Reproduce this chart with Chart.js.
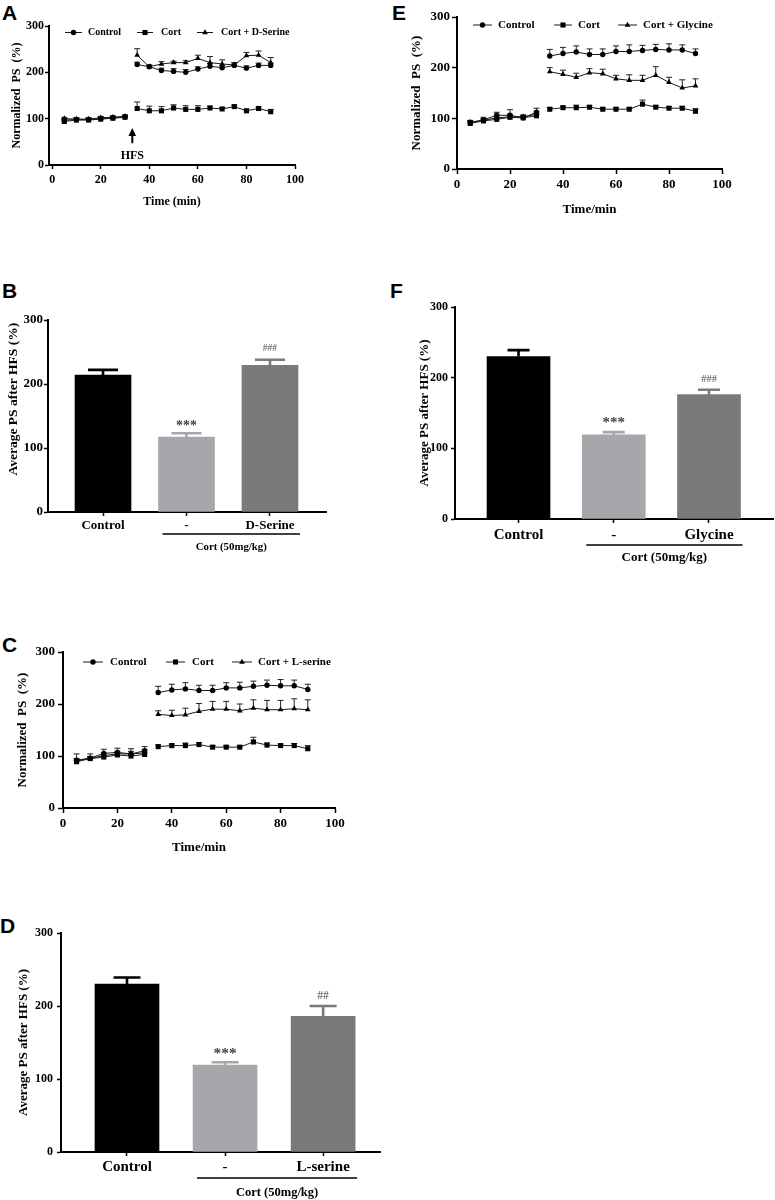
<!DOCTYPE html>
<html><head><meta charset="utf-8">
<script src="https://cdn.jsdelivr.net/npm/chart.js@4.4.1/dist/chart.umd.min.js"></script>
<style>
html,body{margin:0;padding:0;background:#fff;}
body{width:775px;height:1200px;position:relative;overflow:hidden;}
canvas{position:absolute;}
.lt{position:absolute;font-family:'Liberation Sans',Arial,sans-serif;font-weight:bold;font-size:21px;line-height:21px;color:#000;}
</style></head><body>
<div class="lt" style="left:2px;top:2px">A</div>
<div class="lt" style="left:2px;top:280px">B</div>
<div class="lt" style="left:2px;top:634px">C</div>
<div class="lt" style="left:0px;top:915px">D</div>
<div class="lt" style="left:392px;top:2px">E</div>
<div class="lt" style="left:390px;top:280px">F</div>
<canvas id="cA"></canvas><canvas id="cB"></canvas><canvas id="cC"></canvas>
<canvas id="cD"></canvas><canvas id="cE"></canvas><canvas id="cF"></canvas>
<script>
// ---------------- DATA ----------------
const lineTimes = [5,10,15,20,25,30,35,40,45,50,55,60,65,70,75,80,85,90];
const xTickValues = [0,20,40,60,80,100];
const yTickValues = [0,100,200,300];
const hfsTime = 33;

// Panel A
const aLabels = ['Control','Cort','Cort + D-Serine'];
const aControl    = [97,98,98,100,102,104, 217,212,204,202,200,207,213,210,215,209,215,215];
const aControlErr = [3,3,3,3,3,3, 5,4,5,6,6,5,6,5,5,5,5,5];
const aCort       = [94,97,97,99,101,103, 122,117,117,123,120,120,123,121,126,117,122,115];
const aCortErr    = [3,3,3,3,3,3, 14,10,9,7,8,8,4,3,3,3,3,5];
const aDSer       = [100,99,99,102,103,105, 237,212,218,221,221,230,221,218,216,236,237,221];
const aDSerErr    = [3,3,3,3,3,3, 14,3,5,3,4,7,13,9,5,7,9,11];

// Panel E
const eLabels = ['Control','Cort','Cort + Glycine'];
const eControl    = [92,97,106,106,101,112, 223,228,231,226,226,232,232,234,236,235,235,228];
const eControlErr = [4,5,6,11,4,8, 13,12,12,11,11,11,13,10,10,12,10,9];
const eCort       = [90,95,98,102,101,105, 118,121,121,122,118,118,118,128,122,120,120,114];
const eCortErr    = [3,3,3,3,3,3, 3,3,5,3,3,3,3,8,3,3,3,5];
const eGly        = [92,96,101,103,103,108, 192,187,181,190,188,178,175,175,185,171,160,164];
const eGlyErr     = [3,3,4,5,4,5, 8,8,8,8,9,7,11,10,17,10,16,14];

// Panel C
const cLabels = ['Control','Cort','Cort + L-serine'];
const cControl    = [92,96,105,107,104,110, 222,227,229,226,226,231,231,234,236,235,235,228];
const cControlErr = [12,8,8,8,10,8, 12,11,12,10,10,10,11,10,10,12,11,10];
const cCort       = [89,95,98,102,100,103, 118,120,120,122,117,117,117,127,121,120,120,114];
const cCortErr    = [3,3,3,3,3,3, 3,3,5,4,3,3,3,9,4,3,4,6];
const cLSer       = [91,95,101,104,104,106, 180,178,179,186,190,190,187,192,189,189,191,189];
const cLSerErr    = [4,4,5,5,5,6, 7,10,13,15,15,15,13,16,18,18,19,19];

// Bar panels
const bCats = ['Control','-','D-Serine'];
const bVals = [214,117,229];
const bErr  = [8,6,9];
const bMarks = ['','***','###'];

const fCats = ['Control','-','Glycine'];
const fVals = [230,119,176];
const fErr  = [9,4,7];
const fMarks = ['','***','###'];

const dCats = ['Control','-','L-serine'];
const dVals = [230,119,186];
const dErr  = [9,4,14];
const dMarks = ['','***','##'];

const groupLabel = 'Cort (50mg/kg)';
const barColors = ['#000000','#a6a6ab','#7a7a7a'];

// ---------------- HELPERS ----------------
const SERIF = "'Liberation Serif','Times New Roman',serif";
function place(id, box){
  const c = document.getElementById(id);
  c.style.left = box.l + 'px'; c.style.top = box.t + 'px';
  c.width = box.w; c.height = box.h;
  return c;
}
function pads(box, area, yW, xH){
  return {left: area.l - box.l - yW, top: area.t - box.t, right: box.l + box.w - area.r, bottom: box.t + box.h - area.b - xH};
}
function yLin(cfg){
  return {type:'linear', min:0, max:300,
    afterBuildTicks: s => { s.ticks = yTickValues.map(v => ({value:v})); },
    afterFit: s => { s.width = cfg.yW; },
    ticks:{padding:cfg.ytp, color:'#000', font:{family:SERIF, weight:'bold', size:cfg.yts}},
    grid:{display:true, drawOnChartArea:false, drawTicks:true, tickLength:cfg.ytl, tickColor:'#000', tickWidth:1.5},
    border:{display:true, color:'#000', width:2},
    title:{display:true, text:cfg.yTitle, color:'#000', font:{family:SERIF, weight:'bold', size:cfg.yTitleSize}, padding:{top:cfg.yTitlePad, bottom:0}}
  };
}
function xLin(cfg){
  return {type:'linear', min:cfg.xmin, max:100,
    afterBuildTicks: s => { s.ticks = xTickValues.map(v => ({value:v})); },
    afterFit: s => { s.height = cfg.xH; },
    ticks:{padding:cfg.xtp, color:'#000', autoSkip:false, maxRotation:0, minRotation:0, font:{family:SERIF, weight:'bold', size:cfg.xts}},
    grid:{display:true, drawOnChartArea:false, drawTicks:true, tickLength:cfg.xtl, tickColor:'#000', tickWidth:1.5},
    border:{display:true, color:'#000', width:2},
    title:{display:true, text:cfg.xTitle, color:'#000', font:{family:SERIF, weight:'bold', size:cfg.xTitleSize}, padding:{top:0, bottom:cfg.xTitlePad}}
  };
}
function drawErr(chart, kind){
  const ctx = chart.ctx, ys = chart.scales.y;
  chart.data.datasets.forEach((ds, di) => {
    if (!ds.errors) return;
    const meta = chart.getDatasetMeta(di);
    if (meta.type !== kind) return;
    meta.data.forEach((el, i) => {
      const e = ds.errors[i]; if (e == null) return;
      const v = ds.data[i].y;
      const y0 = el.y, y1 = ys.getPixelForValue(v + e);
      const col = Array.isArray(ds.errColor) ? ds.errColor[i] : ds.errColor;
      ctx.save();
      ctx.strokeStyle = col; ctx.lineWidth = ds.errWidth;
      ctx.beginPath();
      ctx.moveTo(el.x, y0); ctx.lineTo(el.x, y1);
      ctx.moveTo(el.x - ds.capHalf, y1); ctx.lineTo(el.x + ds.capHalf, y1);
      ctx.stroke();
      ctx.restore();
    });
  });
}
const errPlugin = {
  id:'errbars',
  beforeDatasetsDraw(chart){ drawErr(chart, 'line'); },
  afterDatasetsDraw(chart){ drawErr(chart, 'bar'); }
};
function legendPlugin(box, L){
  return {id:'lgd', afterDraw(chart){
    const ctx = chart.ctx; ctx.save();
    chart.data.datasets.forEach((ds, i) => {
      const it = L.items[i]; const y = L.y - box.t;
      const x0 = it[0] - box.l, x1 = it[1] - box.l, tx = it[2] - box.l;
      ctx.strokeStyle = '#1a1a1a'; ctx.lineWidth = 1;
      ctx.beginPath(); ctx.moveTo(x0, y); ctx.lineTo(x1, y); ctx.stroke();
      ctx.fillStyle = '#000';
      Chart.helpers.drawPoint(ctx, {pointStyle: ds.pointStyle, radius: ds.pointRadius, rotation: 0, borderWidth: 0}, (x0 + x1) / 2, y);
      ctx.font = `bold ${L.size}px ${SERIF}`; ctx.textBaseline = 'middle'; ctx.textAlign = 'left';
      ctx.fillText(ds.label, tx, y);
    });
    ctx.restore();
  }};
}
const markerSpec = [
  {style:'circle', r:2.7},
  {style:'rect', r:3.6},
  {style:'triangle', r:3.3}
];
// the line is interrupted across the HFS stimulation time
function gapColor(ctx){
  const t0 = lineTimes[ctx.p0DataIndex], t1 = lineTimes[ctx.p1DataIndex];
  return (t0 < hfsTime && t1 > hfsTime) ? 'rgba(0,0,0,0)' : '#1a1a1a';
}
function lineChart(id, cfg){
  const c = place(id, cfg.box);
  const pad = pads(cfg.box, cfg.area, cfg.yW, cfg.xH);
  new Chart(c, {
    type:'line',
    data:{datasets: cfg.series.map((s, k) => ({
      label: s.label,
      data: lineTimes.map((t, i) => ({x:t, y:s.vals[i]})),
      errors: s.errs, errColor:'#222', errWidth:1, capHalf:3,
      pointStyle: markerSpec[k].style, pointRadius: markerSpec[k].r, pointHoverRadius: markerSpec[k].r,
      pointBackgroundColor:'#000', pointBorderColor:'#000', pointBorderWidth:0,
      borderColor:'#1a1a1a', borderWidth:1, tension:0, fill:false,
      segment:{borderColor: gapColor}
    }))},
    options:{responsive:false, animation:false, events:[], layout:{padding:pad},
      plugins:{legend:{display:false}, tooltip:{enabled:false}},
      scales:{x: xLin(cfg), y: yLin(cfg)}},
    plugins:[errPlugin, legendPlugin(cfg.box, cfg.legend)].concat(cfg.extra || [])
  });
}
function groupPlugin(cfg){
  return {id:'grp', afterDatasetsDraw(chart){
    const ctx = chart.ctx, xs = chart.scales.x, ys = chart.scales.y;
    ctx.save();
    cfg.marks.forEach((m, i) => {
      if (!m) return;
      const st = m.charAt(0) === '*' ? cfg.star : cfg.hash;
      const x = xs.getPixelForValue(i), y = ys.getPixelForValue(cfg.vals[i] + cfg.errs[i]) - st.gap;
      ctx.font = `bold ${st.size}px ${SERIF}`; ctx.fillStyle = st.color;
      ctx.textAlign = 'center'; ctx.textBaseline = 'alphabetic';
      ctx.fillText(m, x, y);
    });
    const x1 = xs.getPixelForValue(1) - cfg.barW / 2 + 4, x2 = xs.getPixelForValue(2) + cfg.barW / 2 + 2;
    const yb = chart.chartArea.bottom;
    ctx.strokeStyle = '#000'; ctx.lineWidth = 1.6;
    ctx.beginPath(); ctx.moveTo(x1, yb + cfg.ulOff); ctx.lineTo(x2, yb + cfg.ulOff); ctx.stroke();
    ctx.fillStyle = '#000'; ctx.font = `bold ${cfg.gSize}px ${SERIF}`;
    ctx.textAlign = 'center'; ctx.textBaseline = 'middle';
    ctx.fillText(groupLabel, (x1 + x2) / 2, yb + cfg.txtOff);
    ctx.restore();
  }};
}
function barChart(id, cfg){
  const c = place(id, cfg.box);
  const pad = pads(cfg.box, cfg.area, cfg.yW, cfg.xH);
  new Chart(c, {
    type:'bar',
    data:{datasets:[{data: cfg.vals.map((v, i) => ({x:i, y:v})), errors: cfg.errs,
      backgroundColor: barColors, borderWidth:0, barThickness: cfg.barW,
      errColor: barColors, errWidth:2.6, capHalf: cfg.cap}]},
    options:{responsive:false, animation:false, events:[], layout:{padding:pad},
      plugins:{legend:{display:false}, tooltip:{enabled:false}},
      scales:{
        x:{type:'linear', min:cfg.xmin, max:cfg.xmax, offset:false,
          afterBuildTicks: s => { s.ticks = cfg.cats.map((_, i) => ({value:i})); },
          afterFit: s => { s.height = cfg.xH; },
          ticks:{callback: v => cfg.cats[v], autoSkip:false, maxRotation:0, minRotation:0, padding:cfg.xtp, color:'#000', font:{family:SERIF, weight:'bold', size:cfg.xts}},
          grid:{display:true, offset:false, drawOnChartArea:false, drawTicks:true, tickLength:4, tickColor:'#000', tickWidth:1.5},
          border:{display:true, color:'#000', width:2}},
        y: yLin(cfg)}},
    plugins:[errPlugin, groupPlugin(cfg)]
  });
}

// ---------------- CHARTS ----------------
const hfsPlugin = {id:'hfs', afterDraw(chart){
  const xs = chart.scales.x, ys = chart.scales.y, ctx = chart.ctx;
  const x = xs.getPixelForValue(hfsTime);
  const tip = ys.getPixelForValue(80), tail = ys.getPixelForValue(47);
  ctx.save();
  ctx.strokeStyle = '#000'; ctx.lineWidth = 2;
  ctx.beginPath(); ctx.moveTo(x, tail); ctx.lineTo(x, tip + 5); ctx.stroke();
  ctx.fillStyle = '#000';
  ctx.beginPath(); ctx.moveTo(x, tip); ctx.lineTo(x - 3.8, tip + 8); ctx.lineTo(x + 3.8, tip + 8); ctx.closePath(); ctx.fill();
  ctx.font = 'bold 12px ' + SERIF; ctx.textAlign = 'center'; ctx.textBaseline = 'middle';
  ctx.fillText('HFS', x, ys.getPixelForValue(19));
  ctx.restore();
}};

lineChart('cA', {
  box:{l:0, t:0, w:310, h:215}, area:{l:49, t:26, r:295, b:165},
  yW:49, xH:45, xmin:-1.3,
  yts:12, ytp:1, ytl:4, yTitle:'Normalized  PS  (%)', yTitleSize:12, yTitlePad:9.8,
  xts:12, xtp:4, xtl:4, xTitle:'Time (min)', xTitleSize:12, xTitlePad:0.8,
  series:[{label:aLabels[0], vals:aControl, errs:aControlErr},
          {label:aLabels[1], vals:aCort, errs:aCortErr},
          {label:aLabels[2], vals:aDSer, errs:aDSerErr}],
  legend:{y:32.5, size:10, items:[[65,82,88],[137,153,161],[197,213,221]]},
  extra:[hfsPlugin]
});

lineChart('cE', {
  box:{l:390, t:0, w:385, h:225}, area:{l:457, t:17, r:722, b:169},
  yW:67, xH:50, xmin:0,
  yts:13, ytp:2, ytl:5, yTitle:'Normalized  PS  (%)', yTitleSize:13, yTitlePad:19.2,
  xts:13, xtp:3, xtl:5, xTitle:'Time/min', xTitleSize:13, xTitlePad:1.2,
  series:[{label:eLabels[0], vals:eControl, errs:eControlErr},
          {label:eLabels[1], vals:eCort, errs:eCortErr},
          {label:eLabels[2], vals:eGly, errs:eGlyErr}],
  legend:{y:25, size:11, items:[[473,492,498],[554,572,578],[618,637,643]]}
});

lineChart('cC', {
  box:{l:0, t:630, w:350, h:230}, area:{l:63, t:652, r:335, b:808},
  yW:63, xH:48, xmin:0,
  yts:13, ytp:3, ytl:5, yTitle:'Normalized  PS  (%)', yTitleSize:13, yTitlePad:15.2,
  xts:13, xtp:3, xtl:5, xTitle:'Time/min', xTitleSize:13, xTitlePad:0.2,
  series:[{label:cLabels[0], vals:cControl, errs:cControlErr},
          {label:cLabels[1], vals:cCort, errs:cCortErr},
          {label:cLabels[2], vals:cLSer, errs:cLSerErr}],
  legend:{y:662, size:11, items:[[83,103,110],[166,185,192],[232,252,258]]}
});

barChart('cB', {
  box:{l:0, t:270, w:340, h:290}, area:{l:48, t:320, r:326, b:512},
  yW:48, xH:30, xmin:-0.659, xmax:2.671, barW:56, cap:15,
  cats:bCats, vals:bVals, errs:bErr, marks:bMarks,
  yts:13, ytp:1, ytl:4, yTitle:' '.repeat(10) + 'Average PS after HFS (%)', yTitleSize:13.5, yTitlePad:5.9,
  xts:13, xtp:2,
  star:{size:14, gap:3, color:'#444'}, hash:{size:9.5, gap:9, color:'#777'},
  ulOff:22, txtOff:35, gSize:10.8
});

barChart('cF', {
  box:{l:390, t:270, w:385, h:300}, area:{l:455, t:307, r:773, b:519},
  yW:65, xH:30, xmin:-0.667, xmax:2.672, barW:63, cap:11,
  cats:fCats, vals:fVals, errs:fErr, marks:fMarks,
  yts:12, ytp:3, ytl:4, yTitle:'Average PS after HFS (%)', yTitleSize:13, yTitlePad:27.2,
  xts:15, xtp:3,
  star:{size:15, gap:5, color:'#444'}, hash:{size:10.5, gap:7.5, color:'#777'},
  ulOff:26, txtOff:39, gSize:13
});

barChart('cD', {
  box:{l:0, t:900, w:390, h:300}, area:{l:61, t:933, r:380, b:1152},
  yW:61, xH:30, xmin:-0.673, xmax:2.58, barW:64, cap:13.5,
  cats:dCats, vals:dVals, errs:dErr, marks:dMarks,
  yts:12, ytp:4, ytl:4, yTitle:'Average PS after HFS (%)', yTitleSize:13, yTitlePad:16.2,
  xts:15, xtp:2,
  star:{size:15.5, gap:4, color:'#444'}, hash:{size:11.7, gap:7, color:'#777'},
  ulOff:26, txtOff:41, gSize:12.5
});
</script>
</body></html>
